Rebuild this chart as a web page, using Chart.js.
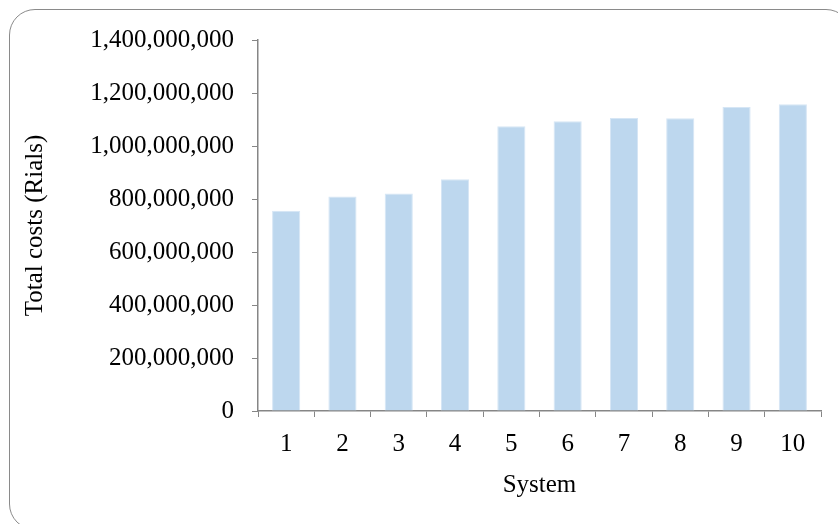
<!DOCTYPE html>
<html>
<head>
<meta charset="utf-8">
<script src="https://cdn.jsdelivr.net/npm/chart.js@4.4.0/dist/chart.umd.min.js"></script>
<style>
  html,body{margin:0;padding:0;background:#fff;overflow:hidden;}
  #wrap{position:relative;width:838px;height:524px;overflow:hidden;}
  #frame{position:absolute;left:9px;top:9px;width:843px;height:521px;border:1.5px solid #8a8a8a;border-radius:26px;pointer-events:none;box-sizing:border-box;}
</style>
</head>
<body>
<div id="wrap">
  <canvas id="c" width="838" height="524"></canvas>
  <div id="frame"></div>
</div>
<script>
// data
const systems = ['1','2','3','4','5','6','7','8','9','10'];
const totalCosts = [756000000, 809000000, 821000000, 875000000, 1075000000, 1093000000, 1106000000, 1105000000, 1147000000, 1158000000];
const yMax = 1400000000;
const yStep = 200000000;

const font = 'Liberation Serif, Times New Roman, serif';
const axisGrey = '#868686';

const ctx = document.getElementById('c');
new Chart(ctx, {
  type: 'bar',
  data: {
    labels: systems,
    datasets: [{
      data: totalCosts,
      backgroundColor: '#BDD7EE',
      borderColor: '#D6E6F5',
      borderWidth: 1,
      barPercentage: 0.5,
      categoryPercentage: 1.0
    }]
  },
  options: {
    responsive: false,
    animation: false,
    layout: { padding: { top: 40, right: 17, left: 0, bottom: 0 } },
    plugins: { legend: { display: false }, tooltip: { enabled: false } },
    scales: {
      x: {
        offset: true,
        grid: { offset: true, drawOnChartArea: false, drawTicks: true, tickLength: 6, color: axisGrey },
        border: { color: axisGrey, width: 1.5 },
        ticks: { color: '#000', font: { family: font, size: 25 }, padding: 12, maxRotation: 0 },
        title: { display: true, text: 'System', color: '#000', font: { family: font, size: 25 }, padding: { top: 4, bottom: 24 } },
        afterFit: s => { s.height = 113; }
      },
      y: {
        min: 0,
        max: yMax,
        grid: { drawOnChartArea: false, drawTicks: true, tickLength: 6, color: axisGrey },
        border: { color: axisGrey, width: 1.5 },
        ticks: {
          stepSize: yStep,
          color: '#000',
          font: { family: font, size: 25 },
          padding: 18,
          callback: v => v.toLocaleString('en-US')
        },
        title: { display: true, text: 'Total costs (Rials)', color: '#000', font: { family: font, size: 25 }, padding: { top: 20, bottom: 0 } },
        afterFit: s => { s.width = 258; }
      }
    }
  }
});
</script>
</body>
</html>
